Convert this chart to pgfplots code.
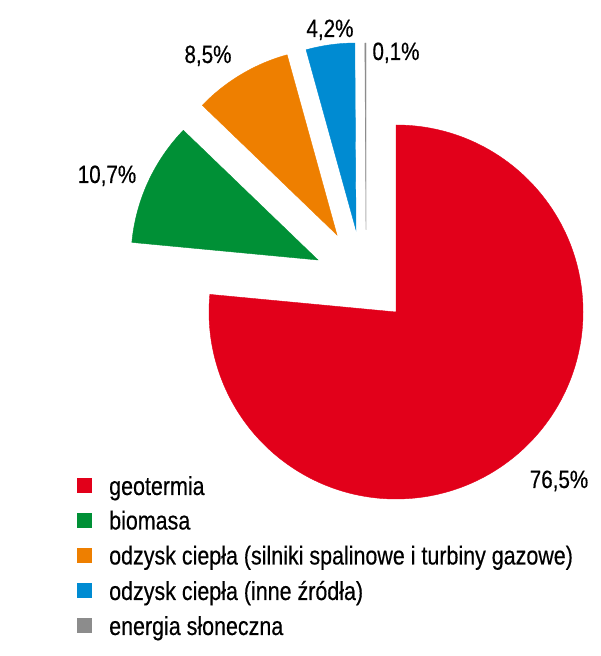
\documentclass[border=0pt]{standalone}
\usepackage{pgfplots}
\usepackage{pgfplotstable}
\pgfplotsset{compat=1.18}
\usepackage{fontspec}
\setmainfont{Liberation Sans}[FakeStretch=0.825, FakeBold=0.4]
\definecolor{cRed}{HTML}{E2001A}
\definecolor{cGreen}{HTML}{009036}
\definecolor{cOrange}{HTML}{EE7F00}
\definecolor{cBlue}{HTML}{008BD2}
\definecolor{cGray}{HTML}{8C8C8C}
% value in percent; dx, dy = explode offset of the slice (pt)
\pgfplotstableread{
name value dx dy col
geotermia 76.5 0 0 cRed
biomasa 10.7 -78 52 cGreen
odzyskA 8.5 -59 77 cOrange
odzyskB 4.2 -40 82 cBlue
slonce 0.1 -30 82 cGray
}\piedata
\newcommand\legitem[3]{%
  \fill[#1] (axis cs:77,#3+1.5) rectangle (axis cs:92,#3+16.5);
  \node[anchor=base west, font=\fontsize{26}{30}\selectfont, inner sep=0pt] at (axis cs:109,#3) {#2};
}
\newcommand\vlabel[3]{%
  \node[anchor=base, font=\fontsize{25}{29}\selectfont, inner sep=0pt] at (axis cs:#1,#2) {#3};
}
\begin{document}
\begin{tikzpicture}
\begin{axis}[hide axis, scale only axis, width=600pt, height=656pt,
  xmin=0, xmax=600, ymin=0, ymax=656, clip=false]
\path (axis cs:0,0) rectangle (axis cs:600,656);
\pgfplotstablegetrowsof{\piedata}
\pgfmathtruncatemacro{\N}{\pgfplotsretval-1}
\gdef\cum{90}
\pgfplotsforeachungrouped \i in {0,...,\N}{%
  \pgfplotstablegetelem{\i}{value}\of\piedata \let\v\pgfplotsretval
  \pgfplotstablegetelem{\i}{dx}\of\piedata \let\dx\pgfplotsretval
  \pgfplotstablegetelem{\i}{dy}\of\piedata \let\dy\pgfplotsretval
  \pgfplotstablegetelem{\i}{col}\of\piedata \let\col\pgfplotsretval
  \pgfmathsetmacro{\a}{\cum}%
  \pgfmathsetmacro{\b}{\cum-3.6*\v}%
  \pgfmathsetmacro{\cx}{396+\dx}%
  \pgfmathsetmacro{\cy}{344+\dy}%
  \edef\temp{\noexpand\fill[\col, draw=\col, line width=0.4pt] (axis cs:\cx,\cy) -- ++(\a:187pt) arc[start angle=\a, end angle=\b, radius=187pt] -- cycle;}%
  \temp
  \global\let\cum\b
}
% value labels
\vlabel{559}{168}{76,5\%}
\vlabel{107}{473}{10,7\%}
\vlabel{208}{593}{8,5\%}
\vlabel{330}{619}{4,2\%}
\vlabel{396}{596}{0,1\%}
% legend
\legitem{cRed}{geotermia}{161}
\legitem{cGreen}{biomasa}{126.5}
\legitem{cOrange}{odzysk ciepła (silniki spalinowe i turbiny gazowe)}{91.5}
\legitem{cBlue}{odzysk ciepła (inne źródła)}{56}
\legitem{cGray}{energia słoneczna}{21}
\end{axis}
\end{tikzpicture}
\end{document}
